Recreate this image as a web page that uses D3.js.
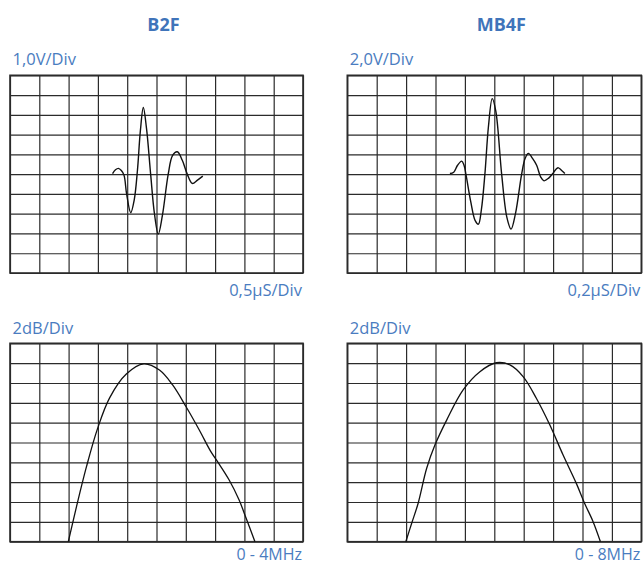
<!DOCTYPE html>
<html>
<head>
<meta charset="utf-8">
<script src="https://cdn.jsdelivr.net/npm/d3@7"></script>
<style>
  html, body { margin: 0; padding: 0; background: #ffffff; }
  svg { display: block; }
  text { font-family: "Open Sans", "DejaVu Sans", sans-serif; fill: #4a7cc0; }
</style>
</head>
<body>
<svg id="chart" width="643" height="565"></svg>
<script>
// ---- data ----
const probes = ["B2F", "MB4F"];
const voltLabels = ["1,0V/Div", "2,0V/Div"];
const timeLabels = ["0,5μS/Div", "0,2μS/Div"];
const dbLabels = ["2dB/Div", "2dB/Div"];
const freqLabels = ["0 - 4MHz", "0 - 8MHz"];
const gridDivisions = d3.range(0, 11);   // 10 x 10 graticule

// waveform: [time (div), amplitude (div, 0 = centre line)]
const waveB2F = [
  [3.50, 0.03], [3.60, 0.22], [3.70, 0.29], [3.80, 0.18], [3.89, -0.05], [3.98, -1.0],
  [4.12, -1.95], [4.24, -1.3], [4.35, 0.2], [4.45, 2.2], [4.55, 3.37], [4.66, 2.3],
  [4.80, 0.0], [4.93, -2.0], [5.06, -3.03], [5.20, -2.1], [5.40, 0.0], [5.55, 0.95],
  [5.71, 1.13], [5.88, 0.7], [6.05, 0.0], [6.22, -0.47], [6.40, -0.3], [6.58, -0.1]
];
const waveMB4F = [
  [3.49, 0.03], [3.62, 0.10], [3.75, 0.45], [3.89, 0.66], [3.97, 0.45], [4.04, -0.05],
  [4.20, -1.4], [4.35, -2.35], [4.46, -2.53], [4.56, -1.8], [4.68, 0.0], [4.80, 2.4],
  [4.93, 3.82], [5.05, 3.2], [5.25, 0.0], [5.43, -2.2], [5.57, -2.78], [5.72, -2.0],
  [5.93, 0.0], [6.05, 0.8], [6.16, 1.05], [6.30, 0.8], [6.44, 0.45], [6.58, -0.15],
  [6.69, -0.34], [6.85, -0.2], [7.00, 0.05], [7.10, 0.25], [7.18, 0.32], [7.28, 0.2],
  [7.40, 0.03]
];
// spectrum: [frequency (div), level (div above bottom)]
const specB2F = [
  [1.99, 0.0], [2.27, 1.77], [2.61, 3.78], [2.99, 5.71], [3.40, 7.25], [3.97, 8.45],
  [4.57, 8.96], [5.10, 8.65], [5.55, 7.90], [6.01, 6.80], [6.46, 5.63], [6.85, 4.55],
  [7.10, 4.00], [7.48, 3.11], [7.82, 2.10], [8.04, 1.26], [8.36, 0.0]
];
const specMB4F = [
  [1.99, 0.0], [2.19, 0.93], [2.41, 1.94], [2.70, 3.70], [2.98, 4.87], [3.38, 6.13],
  [3.94, 7.65], [4.51, 8.57], [5.07, 9.02], [5.53, 8.91], [5.98, 8.32], [6.43, 7.23],
  [6.89, 5.88], [7.34, 4.37], [7.79, 2.94], [8.07, 1.94], [8.36, 1.01], [8.61, 0.0]
];

const waves = [waveB2F, waveMB4F];
const specs = [specB2F, specMB4F];

// ---- layout ----
const svg = d3.select("#chart");
const colX = [[10, 303], [347.3, 641.3]];
const rowY = [[75.3, 273], [343.3, 541.7]];
const gridColor = "#2b2b2b";

function drawGrid(g, x, y) {
  g.append("g")
    .attr("transform", `translate(0,${y.range()[0]})`)
    .call(d3.axisBottom(x).tickValues(gridDivisions).tickSize(y.range()[1] - y.range()[0]).tickFormat(""))
    .call(a => a.select(".domain").remove())
    .selectAll("line").attr("stroke", gridColor).attr("stroke-width", 1.2);
  g.append("g")
    .attr("transform", `translate(${x.range()[0]},0)`)
    .call(d3.axisRight(y).tickValues(y.domain()[0] < 0 ? d3.range(-5, 6) : gridDivisions)
      .tickSize(x.range()[1] - x.range()[0]).tickFormat(""))
    .call(a => a.select(".domain").remove())
    .selectAll("line").attr("stroke", gridColor).attr("stroke-width", 1.2);
  g.append("rect")
    .attr("x", x.range()[0]).attr("y", y.range()[1])
    .attr("width", x.range()[1] - x.range()[0]).attr("height", y.range()[0] - y.range()[1])
    .attr("fill", "none").attr("stroke", gridColor).attr("stroke-width", 1.6);
}

for (let i = 0; i < 2; i++) {
  const [x0, x1] = colX[i];
  const x = d3.scaleLinear().domain([0, 10]).range([x0, x1]);

  // title
  svg.append("text").attr("x", (x0 + x1) / 2 + 7).attr("y", 31)
    .attr("text-anchor", "middle").attr("font-size", 18).attr("font-weight", "bold")
    .style("fill", "#3f74ba").text(probes[i]);

  // --- waveform panel ---
  const yW = d3.scaleLinear().domain([-5, 5]).range([rowY[0][1], rowY[0][0]]);
  const gW = svg.append("g");
  drawGrid(gW, x, yW);
  svg.append("text").attr("x", x0 + 2.5).attr("y", 65).attr("font-size", 16.5).text(voltLabels[i]);
  svg.append("text").attr("x", x1 - 1).attr("y", 296).attr("text-anchor", "end")
    .attr("font-size", 16.5).text(timeLabels[i]);
  gW.append("path").datum(waves[i])
    .attr("d", d3.line().x(d => x(d[0])).y(d => yW(d[1])).curve(d3.curveCatmullRom.alpha(0.5)))
    .attr("fill", "none").attr("stroke", "#111").attr("stroke-width", 1.4);

  // --- spectrum panel ---
  const yS = d3.scaleLinear().domain([0, 10]).range([rowY[1][1], rowY[1][0]]);
  const gS = svg.append("g");
  drawGrid(gS, x, yS);
  svg.append("text").attr("x", x0 + 2.5).attr("y", 334).attr("font-size", 16.5).text(dbLabels[i]);
  svg.append("text").attr("x", x1 - 1).attr("y", 560).attr("text-anchor", "end")
    .attr("font-size", 16).text(freqLabels[i]);
  gS.append("path").datum(specs[i])
    .attr("d", d3.line().x(d => x(d[0])).y(d => yS(d[1])).curve(d3.curveCatmullRom.alpha(0.5)))
    .attr("fill", "none").attr("stroke", "#111").attr("stroke-width", 1.3);
}
</script>
</body>
</html>
